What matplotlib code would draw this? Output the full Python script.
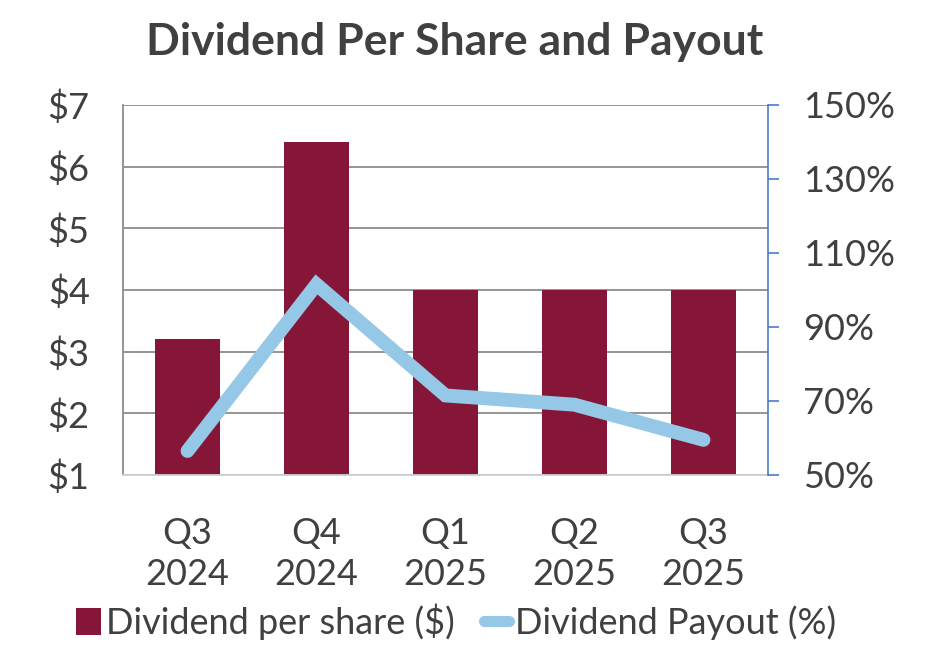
import matplotlib
matplotlib.use("Agg")
import matplotlib.pyplot as plt
from matplotlib.ticker import FuncFormatter, MultipleLocator
from matplotlib.lines import Line2D

categories = ["Q3\n2024", "Q4\n2024", "Q1\n2025", "Q2\n2025", "Q3\n2025"]
dividend_per_share = [3.2, 6.4, 4.0, 4.0, 4.0]
dividend_payout = [56.5, 101.5, 71.5, 69.0, 59.5]

bar_color = "#861638"
line_color = "#95C8E6"
text_color = "#404040"

plt.rcParams['font.family'] = ['Lato', 'DejaVu Sans']

fig = plt.figure(figsize=(9.38, 6.59), dpi=100)
ax = fig.add_axes([123/938, 1-475/659, (768-123)/938, (475-105)/659])
x = list(range(len(categories)))
bars = ax.bar(x, dividend_per_share, width=0.5, bottom=0, color=bar_color, zorder=2,
              label="Dividend per share ($)")
ax.set_ylim(1, 7)
ax.set_xlim(-0.5, 4.5)
ax.yaxis.set_major_locator(MultipleLocator(1))
ax.yaxis.set_major_formatter(FuncFormatter(lambda v, p: f"${v:.0f}"))
ax.grid(axis='y', color="#8c8c8c", linewidth=1.3, zorder=0)
ax.set_axisbelow(True)
ax.set_xticks(x)
ax.set_xticklabels(categories, fontsize=26, color=text_color, linespacing=1.3)
ax.tick_params(axis='x', length=0, pad=30)
ax.tick_params(axis='y', length=0, labelsize=26, labelcolor=text_color, pad=24)
for s in ['top', 'right']:
    ax.spines[s].set_visible(False)
ax.spines['left'].set_color("#8c8c8c")
ax.spines['left'].set_linewidth(1.3)
ax.spines['bottom'].set_color("#d0d0d0")
ax.spines['bottom'].set_linewidth(1.3)

ax2 = ax.twinx()
ax2.plot(x, dividend_payout, color=line_color, linewidth=10, solid_capstyle='round',
         solid_joinstyle='miter', zorder=3)
ax2.set_ylim(50, 150)
ax2.set_yticks([50, 70, 90, 110, 130, 150])
ax2.yaxis.set_major_formatter(FuncFormatter(lambda v, p: f"{v:.0f}%"))
ax2.tick_params(axis='y', direction='out', length=8, width=1.2, color="#4a7cc9",
                labelsize=26, labelcolor=text_color, pad=17)
for s in ['top', 'left', 'bottom']:
    ax2.spines[s].set_visible(False)
ax2.spines['right'].set_color("#4a7cc9")
ax2.spines['right'].set_linewidth(1.2)

fig.text(0.485, 1-42/659, "Dividend Per Share and Payout", ha='center', va='center',
         fontsize=32, fontweight='bold', color=text_color)

line_handle = Line2D([], [], color=line_color, linewidth=8, solid_capstyle='round')
fig.legend([bars, line_handle], ["Dividend per share ($)", "Dividend Payout (%)"],
           loc='center', bbox_to_anchor=(0.486, 1-622/659), ncol=2,
           frameon=False, fontsize=26, labelcolor=text_color, handlelength=0.7,
           handletextpad=0.15, columnspacing=0.8, handleheight=0.75)

fig.savefig("out.png", dpi=100)
